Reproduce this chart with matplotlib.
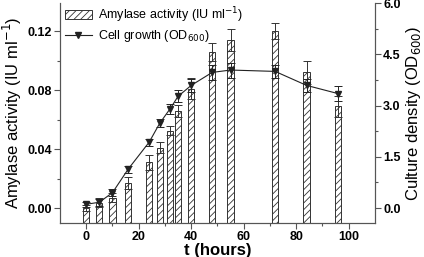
import matplotlib
matplotlib.use("Agg")
import matplotlib.pyplot as plt
from matplotlib.lines import Line2D
import numpy as np

plt.rcParams['font.family'] = ['Liberation Sans', 'DejaVu Sans']
plt.rcParams['hatch.linewidth'] = 0.6

time_h = [0, 5, 10, 16, 24, 28, 32, 35, 40, 48, 55, 72, 84, 96]
amylase = [0.000, 0.0036, 0.007, 0.017, 0.031, 0.041, 0.0525, 0.066, 0.081, 0.106, 0.114, 0.120, 0.092, 0.069]
amylase_err = [0.002, 0.003, 0.003, 0.004, 0.005, 0.0035, 0.003, 0.004, 0.007, 0.006, 0.0075, 0.0055, 0.008, 0.007]
od600 = [0.11, 0.17, 0.45, 1.14, 1.93, 2.48, 2.91, 3.27, 3.59, 3.97, 4.04, 4.00, 3.59, 3.35]
od600_err = [0.08, 0.1, 0.1, 0.1, 0.1, 0.12, 0.15, 0.18, 0.2, 0.22, 0.22, 0.2, 0.2, 0.22]

x_ticks = [0, 20, 40, 60, 80, 100]
left_ticks = [0.00, 0.04, 0.08, 0.12]
right_ticks = [0.0, 1.5, 3.0, 4.5, 6.0]

fig = plt.figure(figsize=(4.24, 2.57), dpi=100)
ax = fig.add_axes([0.1415, 0.132, 0.7425, 0.856])
ax2 = ax.twinx()

ybot = -0.0102
bars = ax.bar(time_h, np.array(amylase) - ybot, bottom=ybot, width=2.4, color='white',
              edgecolor='#333333', hatch='/////', linewidth=0.7, zorder=2)
ax.errorbar(time_h, amylase, yerr=amylase_err, fmt='none', ecolor='#333333',
            elinewidth=0.7, capsize=3, capthick=0.7, zorder=3)

ax2.errorbar(time_h, od600, yerr=od600_err, color='#222222', marker='v',
             markersize=4, linewidth=0.8, elinewidth=0.7, capsize=3, capthick=0.7,
             zorder=4)

ax.set_xlim(-10, 110)
ax.set_ylim(ybot, 0.139)
ax2.set_ylim(-0.44, 6.0)

ax.set_xticks(x_ticks)
ax.set_xticks([10, 30, 50, 70, 90], minor=True)
ax.set_yticks(left_ticks)
ax.set_yticklabels(['%.2f' % v for v in left_ticks])
ax.set_yticks([0.02, 0.06, 0.10], minor=True)
ax2.set_yticks(right_ticks)
ax2.set_yticklabels(['%.1f' % v for v in right_ticks])
ax2.set_yticks([0.75, 2.25, 3.75, 5.25], minor=True)

axcol = '#555555'
for a in (ax, ax2):
    a.spines['top'].set_visible(False)
    for s in a.spines.values():
        s.set_color(axcol)
        s.set_linewidth(0.8)
    a.tick_params(which='both', direction='out', color=axcol, width=0.8, labelsize=9, pad=2)
    a.tick_params(which='major', length=4)
    a.tick_params(which='minor', length=2.5)
    for lab in a.get_xticklabels() + a.get_yticklabels():
        lab.set_fontweight('bold')

ax.set_xlabel('t (hours)', fontsize=12, fontweight='bold', labelpad=0)
ax.set_ylabel('Amylase activity (IU ml$^{-1}$)', fontsize=12, labelpad=2)
ax2.set_ylabel('Culture density (OD$_{600}$)', fontsize=12, labelpad=2)

h_bar = bars
h_line = Line2D([], [], color='#222222', marker='v', markersize=4, linewidth=0.8)
leg = ax2.legend([h_bar, h_line], ['Amylase activity (IU ml$^{-1}$)', 'Cell growth (OD$_{600}$)'],
                 loc='upper left', bbox_to_anchor=(-0.005, 1.02),
                 frameon=False, fontsize=9, handlelength=2.2, handletextpad=0.5,
                 labelspacing=0.3, borderaxespad=0.1)

fig.savefig('out.png', dpi=100)
